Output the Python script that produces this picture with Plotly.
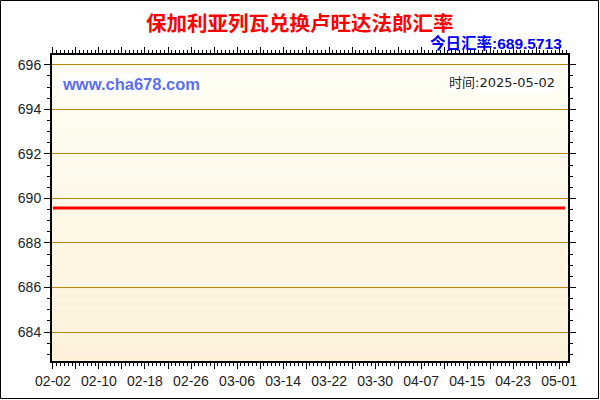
import pandas as pd
import plotly.graph_objects as go

# daily BGN -> RWF rate, 2025-02-02 .. 2025-05-02 (flat on the chart)
dates = pd.date_range("2025-02-02", "2025-05-02", freq="D").strftime("%Y-%m-%d").tolist()
rates = [
    # Feb 02-28
    689.5713, 689.5713, 689.5713, 689.5713, 689.5713, 689.5713, 689.5713, 689.5713, 689.5713,
    689.5713, 689.5713, 689.5713, 689.5713, 689.5713, 689.5713, 689.5713, 689.5713, 689.5713,
    689.5713, 689.5713, 689.5713, 689.5713, 689.5713, 689.5713, 689.5713, 689.5713, 689.5713,
    # Mar 01-31
    689.5713, 689.5713, 689.5713, 689.5713, 689.5713, 689.5713, 689.5713, 689.5713, 689.5713,
    689.5713, 689.5713, 689.5713, 689.5713, 689.5713, 689.5713, 689.5713, 689.5713, 689.5713,
    689.5713, 689.5713, 689.5713, 689.5713, 689.5713, 689.5713, 689.5713, 689.5713, 689.5713,
    689.5713, 689.5713, 689.5713, 689.5713,
    # Apr 01-30
    689.5713, 689.5713, 689.5713, 689.5713, 689.5713, 689.5713, 689.5713, 689.5713, 689.5713,
    689.5713, 689.5713, 689.5713, 689.5713, 689.5713, 689.5713, 689.5713, 689.5713, 689.5713,
    689.5713, 689.5713, 689.5713, 689.5713, 689.5713, 689.5713, 689.5713, 689.5713, 689.5713,
    689.5713, 689.5713, 689.5713,
    # May 01-02
    689.5713, 689.5713,
]

x_tick_vals = ["2025-02-02", "2025-02-06", "2025-02-10", "2025-02-14", "2025-02-18", "2025-02-22",
               "2025-02-26", "2025-03-02", "2025-03-06", "2025-03-10", "2025-03-14", "2025-03-18",
               "2025-03-22", "2025-03-26", "2025-03-30", "2025-04-03", "2025-04-07", "2025-04-11",
               "2025-04-15", "2025-04-19", "2025-04-23", "2025-04-27", "2025-05-01"]
x_tick_text = ["02-02", "", "02-10", "", "02-18", "", "02-26", "", "03-06", "", "03-14", "",
               "03-22", "", "03-30", "", "04-07", "", "04-15", "", "04-23", "", "05-01"]
y_tick_vals = [684, 686, 688, 690, 692, 694, 696]

title_text = "保加利亚列瓦兑换卢旺达法郎汇率"
rate_text = "今日汇率:689.5713"
site_text = "www.cha678.com"
time_text = "时间:2025-05-02"

fig = go.Figure()
fig.add_trace(go.Scatter(x=dates, y=rates, mode="lines",
                         line=dict(color="#ff0000", width=3), hoverinfo="x+y"))

# pale cream -> light yellow gradient behind the grid
top_c = (255, 254, 244)
bot_c = (253, 241, 218)
n_bands = 40
shapes = []
for i in range(n_bands):
    t = i / (n_bands - 1)
    c = tuple(round(top_c[k] + (bot_c[k] - top_c[k]) * t) for k in range(3))
    shapes.append(dict(type="rect", xref="x domain", yref="y domain", layer="below",
                       x0=0, x1=1, y0=1 - (i + 1) / n_bands, y1=1 - i / n_bands,
                       line=dict(width=0), fillcolor="rgb(%d,%d,%d)" % c))

# black border round the whole picture
L, R, T, B = 52, 32, 55, 39
W, H = 600 - L - R, 400 - T - B
shapes.append(dict(type="rect", xref="paper", yref="paper", layer="above",
                   x0=-(L - 0.5) / W, x1=1 + (R - 1.5) / W, y0=-(B - 1.5) / H, y1=1 + (T - 0.5) / H,
                   line=dict(color="black", width=1)))

fig.update_layout(
    width=600, height=400,
    margin=dict(l=L, r=R, t=T, b=B),
    paper_bgcolor="white",
    plot_bgcolor="rgba(0,0,0,0)",
    showlegend=False,
    shapes=shapes,
    font=dict(family="Liberation Sans, Arial", size=14, color="#222222"),
)

fig.update_xaxes(
    type="date", range=["2025-02-01 20:00", "2025-05-02 13:00"],
    tickmode="array", tickvals=x_tick_vals, ticktext=x_tick_text,
    ticks="outside", ticklen=6, tickcolor="black", tickwidth=1,
    minor=dict(dtick=57600000, ticks="outside", ticklen=3, tickcolor="black", showgrid=False),
    showgrid=False, zeroline=False,
    showline=True, linecolor="black", linewidth=2, mirror="ticks",
    tickfont=dict(family="Liberation Sans, Arial", size=14, color="#222222"),
)
fig.update_yaxes(
    range=[682.70, 696.44],
    tickmode="array", tickvals=y_tick_vals,
    ticks="outside", ticklen=6, tickcolor="black", tickwidth=1,
    minor=dict(dtick=0.5, tick0=684, ticks="outside", ticklen=3, tickcolor="black", showgrid=False),
    showgrid=True, gridcolor="#b8860b", gridwidth=1, zeroline=False,
    showline=True, linecolor="black", linewidth=2, mirror="ticks",
    tickfont=dict(family="Liberation Sans, Arial", size=14, color="#222222"),
)

fig.add_annotation(text="<b>%s</b>" % title_text, xref="paper", yref="paper",
                   x=(300 - L) / W, y=1 + (T - 22) / H, xanchor="center", yanchor="middle",
                   showarrow=False, font=dict(family="Noto Sans CJK SC", size=20.5, color="#ff0000"))
fig.add_annotation(text="<b>%s</b>" % rate_text, xref="paper", yref="paper",
                   x=(564 - L) / W, y=1 + (T - 43) / H, xanchor="right", yanchor="middle",
                   showarrow=False, font=dict(family="Liberation Sans, Noto Sans CJK SC", size=15.5, color="#0000ff"))
fig.add_annotation(text="<b>%s</b>" % site_text, xref="paper", yref="paper",
                   x=(60 - L) / W, y=1 - (84 - T) / H, xanchor="left", yanchor="middle",
                   showarrow=False, bgcolor="white", borderpad=1,
                   font=dict(family="Liberation Sans, Arial", size=16.5, color="#5b6ef7"))
fig.add_annotation(text=time_text, xref="paper", yref="paper",
                   x=(557 - L) / W, y=1 - (82 - T) / H, xanchor="right", yanchor="middle",
                   showarrow=False, bgcolor="white", borderpad=1,
                   font=dict(family="DejaVu Sans, Noto Sans CJK SC", size=13, color="#222222"))

# page body has a default 8px margin; drop it so the figure sits at the window corner
fig.write_html("out.html", config={"displayModeBar": False},
               post_script="document.body.style.margin='0';")
